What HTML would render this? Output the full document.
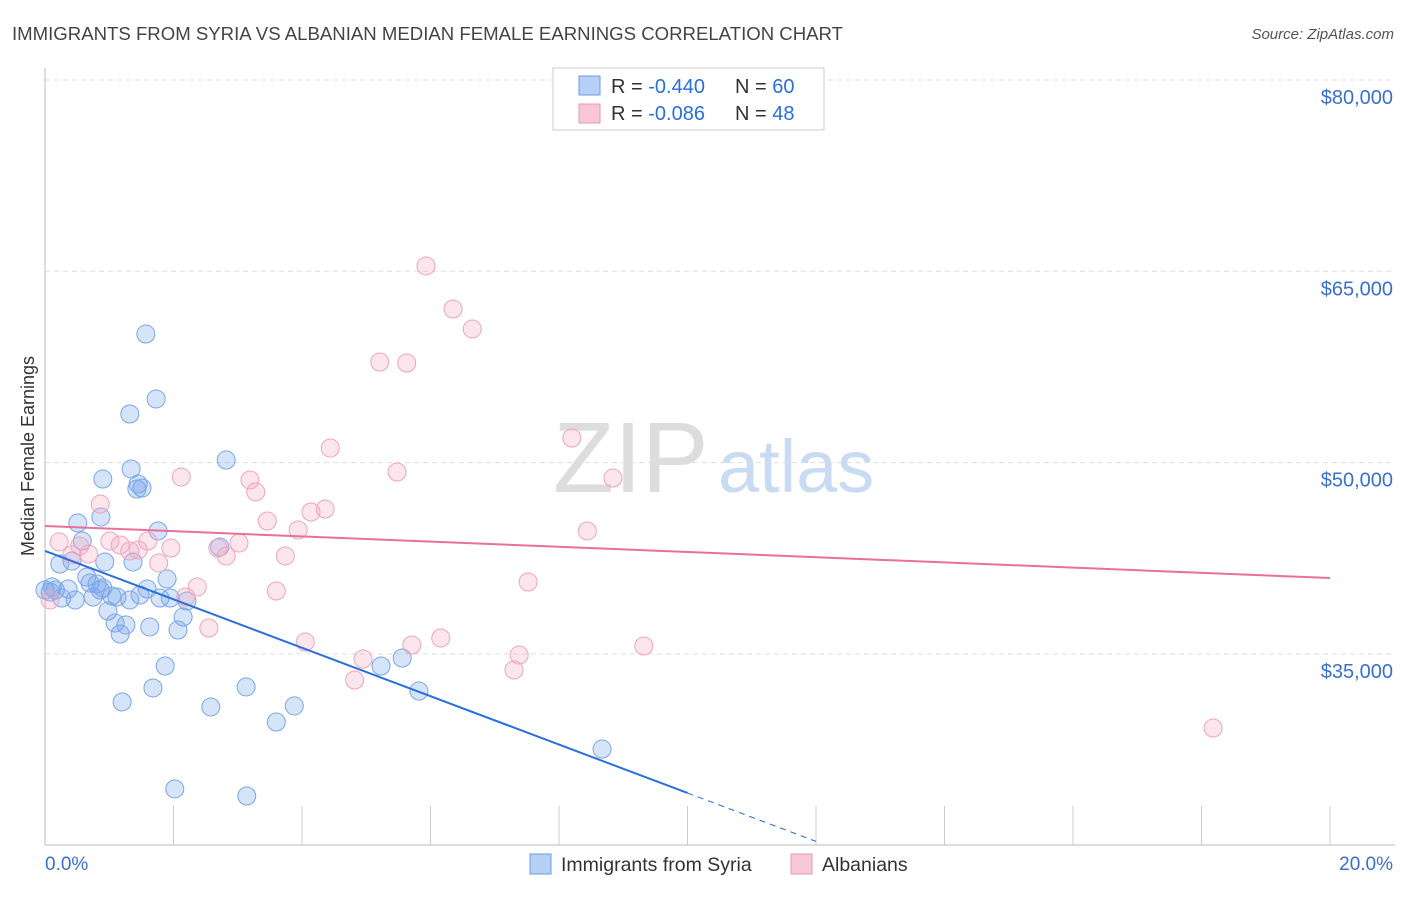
<!DOCTYPE html>
<html><head><meta charset="utf-8"><style>
body{margin:0;background:#fff;font-family:"Liberation Sans",sans-serif;}
svg text{font-family:"Liberation Sans",sans-serif;}
</style></head><body>
<svg id="c" width="1406" height="892" xmlns="http://www.w3.org/2000/svg">
<text x="12" y="40" font-size="18" fill="#444" textLength="831" lengthAdjust="spacingAndGlyphs">IMMIGRANTS FROM SYRIA VS ALBANIAN MEDIAN FEMALE EARNINGS CORRELATION CHART</text>
<text x="1394" y="39" font-size="15" fill="#555" font-style="italic" text-anchor="end">Source: ZipAtlas.com</text>
<text transform="translate(34,456) rotate(-90)" font-size="18" fill="#333" text-anchor="middle">Median Female Earnings</text>
<g>
<text x="553" y="492" font-size="100" fill="#ddd" font-family="Liberation Serif">ZIP</text>
<text x="718" y="492" font-size="74" fill="#c9dbf3">atlas</text>
</g>
<g id="grid"></g>
<g id="marks"></g>
<g>
<rect x="553" y="68" width="271" height="62" fill="#fff" stroke="#ccc"/>
<rect x="579" y="76" width="21" height="19" fill="#b8d0f5" stroke="#6a9be0"/>
<rect x="579" y="104" width="21" height="19" fill="#f8c6d6" stroke="#e89ab2"/>
<text x="611" y="93" font-size="20" fill="#333">R = <tspan fill="#2a6fdb">-0.440</tspan></text>
<text x="735" y="93" font-size="20" fill="#333">N = <tspan fill="#2a6fdb">60</tspan></text>
<text x="611" y="120" font-size="20" fill="#333">R = <tspan fill="#2a6fdb">-0.086</tspan></text>
<text x="735" y="120" font-size="20" fill="#333">N = <tspan fill="#2a6fdb">48</tspan></text>
</g>
<g>
<rect x="530" y="854" width="21" height="20" fill="#b8d0f5" stroke="#6a9be0"/>
<text x="561" y="871" font-size="19.5" fill="#333">Immigrants from Syria</text>
<rect x="791" y="854" width="21" height="20" fill="#f8c6d6" stroke="#e89ab2"/>
<text x="822" y="871" font-size="19.5" fill="#333">Albanians</text>
</g>
</svg>
<script>
const yTicks=[80000,65000,50000,35000];
const yTickLabels=["$80,000","$65,000","$50,000","$35,000"];
const xTickLabels=["0.0%","20.0%"];
const syriaX=[1.57,1.73,1.32,2.82,1.34,0.90,1.43,1.51,1.45,0.87,0.51,1.76,0.58,0.42,0.23,0.93,1.37,0.65,1.90,0.11,0.81,0.90,0.36,1.59,1.04,0.75,1.12,1.79,1.95,2.21,0.26,0.98,1.09,1.26,1.63,2.15,2.07,1.17,1.87,1.68,1.20,2.58,3.13,3.60,3.88,5.23,5.56,5.82,8.67,2.02,3.14,0.16,0.08,0.00,0.70,0.47,1.32,1.48,2.72,0.86];
const syriaY=[60.08,54.99,53.81,50.20,49.50,48.71,47.93,48.01,48.32,45.73,45.26,44.64,43.85,42.28,42.05,42.21,42.21,41.03,40.87,40.25,40.48,40.17,40.09,40.09,39.54,39.46,39.46,39.38,39.38,39.15,39.38,38.36,37.42,37.27,37.11,37.89,36.87,36.56,34.05,32.33,31.23,30.84,32.41,29.66,30.92,34.05,34.68,32.09,27.54,24.41,23.86,40.01,39.85,40.01,40.56,39.23,39.23,39.62,43.38,40.01];
const albX=[5.93,6.35,6.65,5.21,5.63,8.20,4.44,5.48,8.84,2.12,3.19,3.28,0.86,3.46,4.36,4.14,3.94,8.44,0.22,0.54,1.01,1.17,1.60,0.42,0.68,1.32,1.45,1.96,3.02,2.69,2.82,3.74,1.77,2.37,3.60,7.52,2.19,2.55,4.05,6.16,5.71,4.95,7.38,9.32,4.82,7.30,18.18,0.08];
const albY=[65.42,62.04,60.48,57.89,57.81,51.93,51.14,49.26,48.79,48.87,48.64,47.70,46.75,45.42,46.36,46.13,44.72,44.64,43.78,43.46,43.85,43.54,43.85,42.76,42.83,43.07,43.15,43.30,43.70,43.30,42.68,42.68,42.13,40.25,39.93,40.64,39.46,37.03,35.93,36.25,35.70,34.60,34.91,35.62,32.95,33.74,29.19,39.23];
const syriaTrend=[43.07,-1.8975];
const albTrend=[45.03,-0.204];
const NS="http://www.w3.org/2000/svg";
const X=p=>45+p*1285/20;
const Y=k=>80+(80-k)*191.3/15;
function mk(t,a,parent){const e=document.createElementNS(NS,t);for(const k in a)e.setAttribute(k,a[k]);parent.appendChild(e);return e;}
const grid=document.getElementById('grid'),marks=document.getElementById('marks');
yTicks.forEach((v,i)=>{
const y=Y(v/1000);
const l=mk('line',{x1:45,x2:1395,y1:y,y2:y,stroke:'#ddd','stroke-dasharray':'5,4'},grid);


const t=mk('text',{x:1393,y:y+24,'font-size':20,fill:'#3a70cc','text-anchor':'end'},grid);
t.textContent=yTickLabels[i];


});
const ax=mk('line',{x1:45,x2:45,y1:68,y2:845,stroke:'#bbb'},grid);


const bx=mk('line',{x1:45,x2:1395,y1:845,y2:845,stroke:'#bbb'},grid);


for(let i=1;i<=10;i++){const x=X(i*2);
const tk=mk('line',{x1:x,x2:x,y1:806,y2:845,stroke:'#ccc'},grid);

}
const xl0=mk('text',{x:45,y:870,'font-size':19,fill:'#3a70cc'},grid);xl0.textContent=xTickLabels[0];


const xl1=mk('text',{x:1393,y:870,'font-size':19,fill:'#3a70cc','text-anchor':'end'},grid);xl1.textContent=xTickLabels[1];


syriaX.forEach((x,i)=>{
const c=mk('circle',{cx:X(x),cy:Y(syriaY[i]),r:9,fill:'rgba(120,165,235,0.3)',stroke:'#7aa6e6','stroke-width':1},marks);


});
albX.forEach((x,i)=>{
const c=mk('circle',{cx:X(x),cy:Y(albY[i]),r:9,fill:'rgba(245,170,195,0.3)',stroke:'#eca5bc','stroke-width':1},marks);


});
const sEnd=10,sDash=12;
const sl=mk('line',{x1:X(0),y1:Y(syriaTrend[0]),x2:X(sEnd),y2:Y(syriaTrend[0]+syriaTrend[1]*sEnd),stroke:'#2a6fdb','stroke-width':2},marks);


const sd=mk('line',{x1:X(sEnd),y1:Y(syriaTrend[0]+syriaTrend[1]*sEnd),x2:X(sDash),y2:Y(syriaTrend[0]+syriaTrend[1]*sDash),stroke:'#2a6fdb','stroke-width':1,'stroke-dasharray':'6,5'},marks);


const al=mk('line',{x1:X(0),y1:Y(albTrend[0]),x2:X(20),y2:Y(albTrend[0]+albTrend[1]*20),stroke:'#e8709a','stroke-width':2},marks);


</script>
</body></html>
